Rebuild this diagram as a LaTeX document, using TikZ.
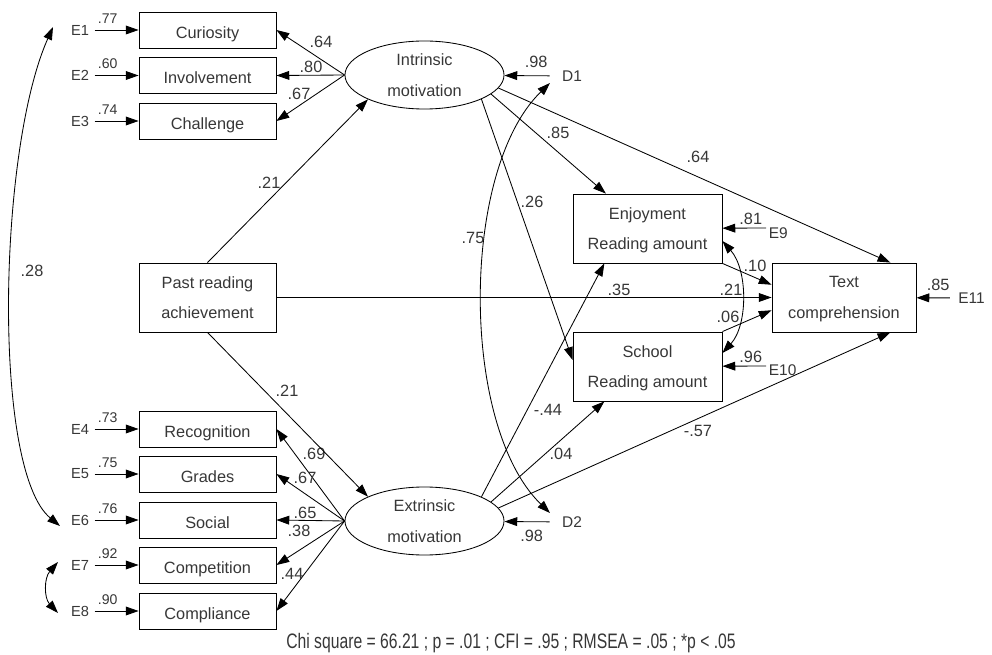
\documentclass[tikz,border=0pt]{standalone}
\usepackage{fontspec}
\setmainfont{Liberation Sans}
\newfontfamily\narrowsans[FakeStretch=0.75]{Liberation Sans}
\usetikzlibrary{arrows.meta,positioning,shapes.geometric}
\definecolor{inkgrey}{RGB}{55,55,55}

\begin{document}
\begin{tikzpicture}[x=0.025cm,y=-0.025cm,line width=0.6pt,
  every node/.style={font=\fontsize{11.6}{21.7}\selectfont,text=inkgrey},
  ind/.style={draw=black,minimum width=3.425cm,minimum height=0.9cm,inner sep=0pt,
              text height=12pt,text depth=0pt},
  var/.style={draw=black,minimum height=1.725cm,inner sep=0pt,align=center,text depth=0pt},
  lat/.style={draw=black,ellipse,minimum width=3.975cm,minimum height=1.7cm,inner sep=0pt,
              align=center,text depth=0pt},
  err/.style={font=\fontsize{10.4}{12}\selectfont,inner xsep=0.13cm,inner ysep=1pt},
  dist/.style={font=\fontsize{11}{12}\selectfont,inner xsep=0.3cm,inner ysep=1pt},
  ev/.style={font=\fontsize{10}{12}\selectfont,inner sep=1pt},
  coef/.style={inner sep=1pt},
  ar/.style={-{Triangle[length=3.2mm,width=2.2mm]}},
  dar/.style={{Triangle[length=3.2mm,width=2.2mm]}-{Triangle[length=3.2mm,width=2.2mm]}}]
\useasboundingbox (0,0) rectangle (992,655);

% indicators with their errors
\foreach \n/\t/\y/\e/\v in {cur/Curiosity/30/1/.77,inv/Involvement/75.5/2/.60,cha/Challenge/121/3/.74,
  rec/Recognition/429/4/.73,gra/Grades/474/5/.75,soc/Social/520/6/.76,
  cpt/Competition/565/7/.92,cpl/Compliance/611/8/.90}{
  \node[ind] (\n) at (207.5,\y) {\t};
  \node[err,left=1.1cm of \n] (e\e) {E\e};
  \draw[ar] (e\e) -- node[ev,pos=.3,above=3.5pt] (v\e) {\v} (\n);
}

\node[var,minimum width=3.425cm] (past) at (207.5,297.5) {Past reading\\achievement};
\node[lat] (intr) at (424.5,75) {Intrinsic\\motivation};
\node[lat] (extr) at (424.5,521) {Extrinsic\\motivation};
\node[var,minimum width=3.725cm] (enj) at (647.5,228.5) {Enjoyment\\Reading amount};
\node[var,minimum width=3.725cm] (sch) at (647.5,366.5) {School\\Reading amount};
\node[var,minimum width=3.6cm] (txt) at (844,297.5) {Text\\comprehension};

% disturbances
\node[dist] (d1) at (572,76) {D1};
\node[dist] (d2) at (572,522) {D2};
\draw[ar] (d1) -- node[coef,pos=.3,above=4.5pt] (vd1) {.98} (intr);
\draw[ar] (d2) -- node[coef,pos=.4,below=5pt] (vd2) {.98} (extr);

\coordinate (e9a) at (766,228);
\coordinate (e10a) at (766,366);
\node[dist,anchor=west,inner xsep=1pt] (e9) at (767,233) {E9};
\node[dist,anchor=west,inner xsep=1pt] (e10) at (767,370) {E10};
\node[dist,inner xsep=0.2cm] (e11) at (971.5,298) {E11};
\draw[ar] (e9a) -- node[coef,pos=.35,above=1pt] (v9) {.81} (enj);
\draw[ar] (e10a) -- node[coef,pos=.35,above=1pt] (v10) {.96} (sch);
\draw[ar] (e11) -- node[coef,pos=.35,above=4pt] (v11) {.85} (txt);

% loadings
\foreach \b/\v/\lx/\ly in {cur/.64/321/42,inv/.80/311/67,cha/.67/299/94}{
  \draw[ar] (intr.west) -- (\b.east);
  \node[coef] (l\b) at (\lx,\ly) {\v};
}
\foreach \b/\v/\lx/\ly in {rec/.69/314/454,gra/.67/305/478,soc/.65/305/513,cpt/.38/299/531,cpl/.44/292/574}{
  \draw[ar] (extr.west) -- (\b.east);
  \node[coef] (l\b) at (\lx,\ly) {\v};
}

% structural paths
\foreach \a/\b/\v/\lx/\ly in {past.north/intr.south west/.21/269/183,
  past.south/extr.north west/.21/287/391,
  intr.-16/enj.140/.85/558/133,
  intr.-23/sch.175/.26/532/202,
  intr.-10/txt.37/.64/698/157,
  extr.23/enj.-141/-.44/548/410,
  extr.16/sch.-141/.04/561/454,
  extr.10/txt.-37/-.57/698/431,
  enj.south east/txt.170/.10/755/266,
  sch.north east/txt.190/.06/728/317}{
  \draw[ar] (\a) -- (\b);
  \node[coef] at (\lx,\ly) {\v};
}
\draw[ar] (past.east) -- (txt.west);
\node[coef] (p35) at (619,290) {.35};
\node[coef] (p21) at (731,290) {.21};

% correlations
\coordinate (c1) at (53,27);
\coordinate (c6) at (60,526);
\coordinate (c7) at (58,562);
\coordinate (c8) at (58,613);
\coordinate (cd1) at (550,83);
\coordinate (cd2) at (550,513);
\draw[dar] (c1) .. controls (-2,150) and (-8,470) .. (c6);
\node[coef] (r16) at (32,271) {.28};
\draw[dar] (c7) .. controls (44,578) and (44,598) .. (c8);
\draw[dar] (cd1) .. controls (460,170) and (460,426) .. (cd2);
\node[coef] (rd) at (473,238) {.75};
\draw[dar] (enj.east |- 0,241) .. controls (748,270) and (748,325) .. (sch.east |- 0,353);

\node[font=\narrowsans\fontsize{14.9}{16}\selectfont] (fit) at (511,643)
  {Chi square = 66.21 ; p = .01 ; CFI = .95 ; RMSEA = .05 ; *p < .05};
\end{tikzpicture}
\end{document}
